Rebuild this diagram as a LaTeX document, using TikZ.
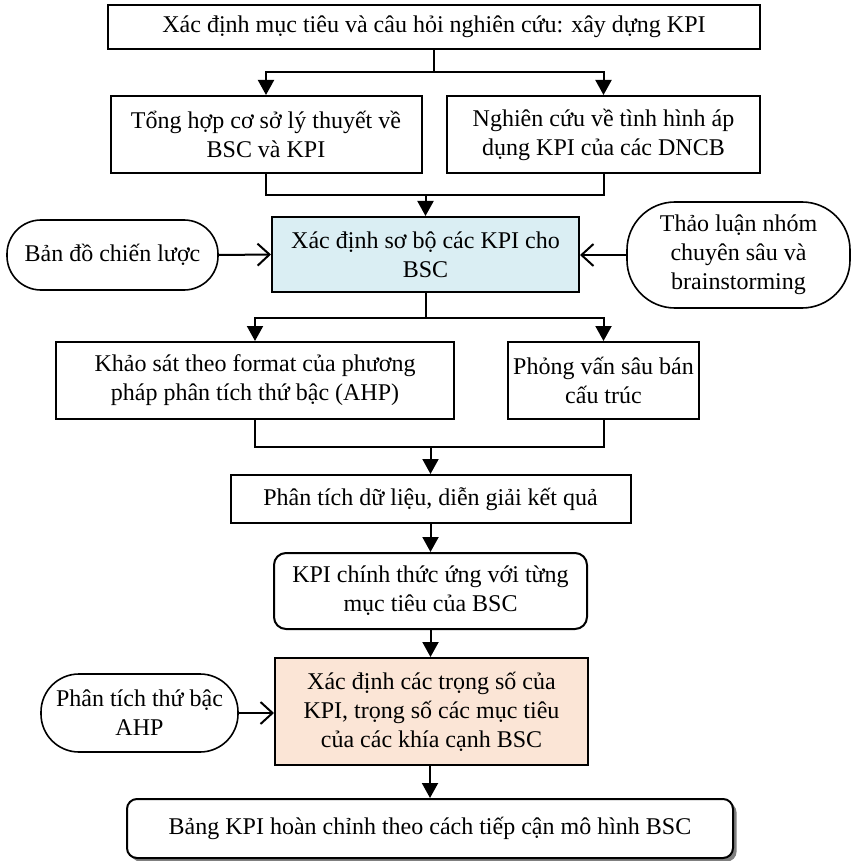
\documentclass[tikz,border=0pt]{standalone}
\usepackage{fontspec}
\setmainfont{Liberation Serif}
\usetikzlibrary{arrows.meta,shadows}
\definecolor{stepblue}{HTML}{DAEEF3}
\definecolor{steppeach}{HTML}{FBE5D6}
\begin{document}
\begin{tikzpicture}[x=0.5pt,y=-0.5pt,
  every node/.style={font=\fontsize{12}{14.5}\selectfont, align=center, inner sep=0pt},
  stepbox/.style={draw, line width=1pt, rectangle},
  roundbox/.style={draw, line width=1pt, rectangle, rounded corners=6pt},
  terminal/.style={draw, line width=0.8pt, rectangle},
  link/.style={line width=1pt},
  flow/.style={line width=1pt, -{Triangle[length=7.5pt,width=8pt]}},
  feed/.style={line width=1pt, -{Straight Barb[length=6pt,width=11pt,line width=1pt]}}]
\useasboundingbox (0,0) rectangle (851,861);

% main column
\node[stepbox, minimum width=326pt, minimum height=22pt] (top) at (434,27)
  {Xác định mục tiêu và câu hỏi nghiên cứu: xây dựng KPI};
\node[stepbox, minimum width=155.5pt, minimum height=38.5pt] (A) at (266,134.5)
  {Tổng hợp cơ sở lý thuyết về\\BSC và KPI};
\node[stepbox, minimum width=156.5pt, minimum height=38.5pt] (B) at (603.5,134.5)
  {Nghiên cứu về tình hình áp\\dụng KPI của các DNCB};
\node[stepbox, fill=stepblue, minimum width=153.5pt, minimum height=37.5pt] (blue) at (425.5,254.5)
  {Xác định sơ bộ các KPI cho\\BSC};
\node[terminal, rounded corners=17pt, minimum width=105.5pt, minimum height=35pt] (L1) at (112.5,255)
  {Bản đồ chiến lược};
\node[terminal, rounded corners=24pt, minimum width=111.5pt, minimum height=53pt] (R1) at (738.5,255)
  {Thảo luận nhóm\\chuyên sâu và\\brainstorming};
\node[stepbox, minimum width=199pt, minimum height=38.5pt] (K) at (255,380.5)
  {Khảo sát theo format của phương\\pháp phân tích thứ bậc (AHP)};
\node[stepbox, minimum width=95.5pt, minimum height=38.5pt] (P) at (603.5,380.5)
  {Phỏng vấn sâu bán\\cấu trúc};
\node[stepbox, minimum width=200pt, minimum height=24pt] (D) at (430.5,499)
  {Phân tích dữ liệu, diễn giải kết quả};
\node[roundbox, minimum width=156.5pt, minimum height=38pt] (C) at (430.5,591)
  {KPI chính thức ứng với từng\\mục tiêu của BSC};
\node[stepbox, fill=steppeach, minimum width=156.5pt, minimum height=53.5pt] (O) at (431.5,711.5)
  {Xác định các trọng số của\\KPI, trọng số các mục tiêu\\của các khía cạnh BSC};
\node[terminal, rounded corners=19pt, minimum width=98.5pt, minimum height=39pt] (T) at (139.5,713)
  {Phân tích thứ bậc\\AHP};
\node[roundbox, rounded corners=5pt, fill=white, minimum width=303pt, minimum height=29.5pt,
  drop shadow={shadow xshift=1.8pt, shadow yshift=-1.8pt, fill=gray, opacity=1}] (F) at (430,828.5)
  {Bảng KPI hoàn chỉnh theo cách tiếp cận mô hình BSC};

% split after the first step
\draw[link] (top.south) -- ++(0,22) coordinate (s1);
\draw[flow] (s1) -| (A.north);
\draw[flow] (s1) -| (B.north);

% merge into the preliminary KPI step
\coordinate (m1) at (blue.north |- 0,195);
\draw[link] (A.south) |- (m1) -| (B.south);
\draw[flow] (m1) -- (blue.north);

% side inputs
\draw[feed] (L1.east) -- (blue.west);
\draw[feed] (R1.west) -- (blue.east |- R1.west);

% split into the two surveys
\draw[link] (blue.south) -- ++(0,25) coordinate (s2);
\draw[flow] (s2) -| (K.north);
\draw[flow] (s2) -| (P.north);

% merge into the analysis step
\coordinate (m2) at (D.north |- 0,447);
\draw[link] (K.south) |- (m2) -| (P.south);
\draw[flow] (m2) -- (D.north);

% remaining chain
\draw[flow] (D.south) -- (C.north);
\draw[flow] (C.south) -- (C.south |- O.north);
\draw[feed] (T.east) -- (O.west |- T.east);
\draw[flow] (O.south -| F.north) -- (F.north);
\end{tikzpicture}
\end{document}
